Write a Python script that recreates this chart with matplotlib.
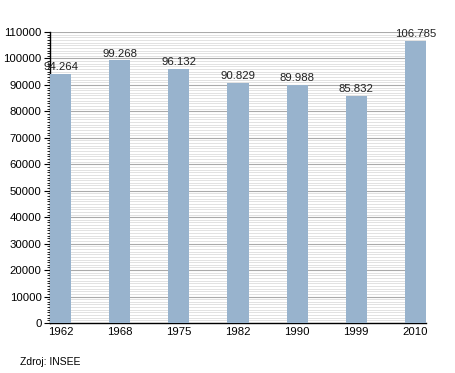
import matplotlib
matplotlib.use("Agg")
import matplotlib.pyplot as plt
from matplotlib.ticker import MultipleLocator

years = ["1962", "1968", "1975", "1982", "1990", "1999", "2010"]
population = [94264, 99268, 96132, 90829, 89988, 85832, 106785]
value_labels = ["94.264", "99.268", "96.132", "90.829", "89.988", "85.832", "106.785"]

plt.rcParams['font.family'] = ['Liberation Sans', 'DejaVu Sans']

fig = plt.figure(figsize=(4.55, 3.73), dpi=100)
ax = fig.add_axes([50/455, 1-323/373, 376/455, (323-32)/373])

w = 0.356
xs = list(range(len(years)))
ax.bar(xs, population, width=w, align='edge', color='#98b3cd', zorder=3)
for x, v, lab in zip(xs, population, value_labels):
    ax.text(x + w/2, v + 700, lab, ha='center', va='bottom', fontsize=8.2, color='#222222', zorder=4)

ax.set_xlim(0, 6 + w)
ax.set_ylim(0, 110000)
ax.set_xticks([x + w/2 for x in xs])
ax.set_xticklabels(years)
ax.yaxis.set_major_locator(MultipleLocator(10000))
ax.yaxis.set_minor_locator(MultipleLocator(1000))
ax.grid(axis='y', which='major', color='#aaaaaa', linewidth=0.8, zorder=0)
ax.grid(axis='y', which='minor', color='#dddddd', linewidth=0.6, zorder=0)
for s in ['top', 'right']:
    ax.spines[s].set_visible(False)
ax.spines['left'].set_linewidth(1.0)
ax.spines['bottom'].set_linewidth(1.0)
ax.tick_params(axis='x', length=0, labelsize=8.2, pad=3)
ax.tick_params(axis='y', which='major', length=4, labelsize=8.2, pad=2)
ax.tick_params(axis='y', which='minor', length=2)

fig.text(20/455, 1-362/373, "Zdroj: INSEE", fontsize=7.5, va='center', ha='left')

fig.savefig("out.png", dpi=100)
